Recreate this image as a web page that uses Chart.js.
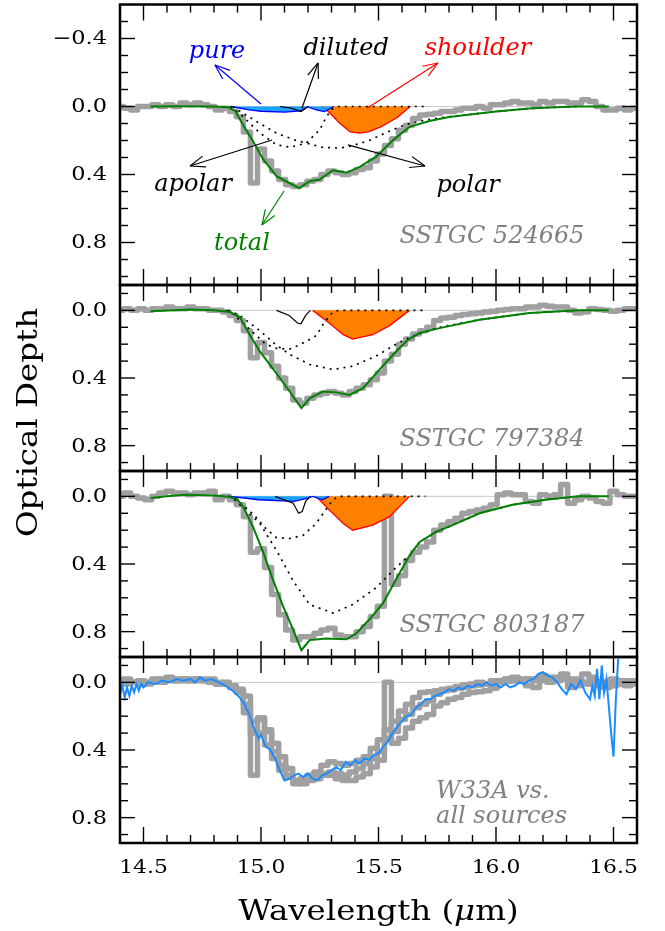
<!DOCTYPE html>
<html>
<head>
<meta charset="utf-8">
<script src="https://cdn.jsdelivr.net/npm/chart.js@4.4.1/dist/chart.umd.min.js"></script>
<style>
  html, body { margin: 0; padding: 0; background: #fff; }
  #wrap { position: relative; width: 665px; height: 931px; }
  #wrap canvas { position: absolute; left: 0; top: 0; }
</style>
</head>
<body>
<div id="wrap">
  <canvas id="p1" width="665" height="931"></canvas>
  <canvas id="p2" width="665" height="931"></canvas>
  <canvas id="p3" width="665" height="931"></canvas>
  <canvas id="p4" width="665" height="931"></canvas>
</div>
<script>
// axis ranges (wavelength in micron, optical depth reversed)
const xMin = 14.4, xMax = 16.6;
const panelRanges = [[-0.6, 1.05], [-0.15, 0.95], [-0.15, 0.95], [-0.15, 0.95]];
const xTickLabels = [14.5, 15.0, 15.5, 16.0, 16.5];
const yTickLabelsTop = [-0.4, 0.0, 0.4, 0.8];
const yTickLabels = [0.0, 0.4, 0.8];

// binned spectra (shared wavelength grid)
const grayWl = [
  14.40,14.43,14.46,14.49,14.52,14.55,14.58,14.61,14.64,14.67,
  14.70,14.73,14.76,14.79,14.82,14.85,14.88,14.91,14.94,14.97,
  15.00,15.03,15.06,15.09,15.12,15.15,15.18,15.21,15.24,15.27,
  15.30,15.33,15.36,15.39,15.42,15.45,15.48,15.51,15.54,15.57,
  15.60,15.63,15.66,15.69,15.72,15.75,15.78,15.81,15.84,15.87,
  15.90,15.93,15.96,15.99,16.02,16.05,16.08,16.11,16.14,16.17,
  16.20,16.23,16.26,16.29,16.32,16.35,16.38,16.41,16.44,16.47,
  16.50,16.53,16.56,16.59];

const p1Gray = [
  0.0,0.01,0.02,0.0,0.0,-0.01,0.0,-0.01,0.0,-0.02,
  -0.01,-0.02,-0.01,0.0,0.02,0.01,0.03,0.06,0.15,0.45,
  0.25,0.32,0.38,0.43,0.46,0.47,0.46,0.44,0.43,0.40,
  0.38,0.39,0.40,0.39,0.37,0.36,0.32,0.28,0.23,0.19,
  0.14,0.11,0.07,0.05,0.045,0.04,0.03,0.03,0.02,0.01,
  0.01,0.0,0.01,-0.01,-0.01,-0.02,-0.03,-0.02,-0.02,-0.01,
  -0.03,-0.02,-0.03,-0.03,-0.02,-0.02,-0.04,-0.03,0.0,0.02,
  0.02,0.01,0.02,0.01];
const p2Gray = [
  0.0,-0.01,0.0,-0.01,0.0,-0.01,-0.01,-0.02,-0.01,-0.01,
  -0.02,-0.01,-0.01,0.0,0.0,0.01,0.03,0.06,0.12,0.28,
  0.19,0.25,0.33,0.40,0.46,0.53,0.55,0.52,0.50,0.49,
  0.48,0.49,0.50,0.48,0.46,0.44,0.41,0.37,0.30,0.26,
  0.20,0.17,0.14,0.12,0.10,0.06,0.045,0.04,0.03,0.025,
  0.02,0.015,0.01,0.005,0.0,-0.005,-0.01,-0.01,-0.02,-0.02,
  -0.03,-0.025,-0.02,-0.02,0.0,0.015,0.01,-0.01,-0.005,0.0,
  0.005,0.0,-0.01,-0.01];
const p3Gray = [
  0.0,-0.02,0.0,0.01,0.02,0.0,-0.02,-0.03,-0.02,-0.02,
  -0.01,-0.02,-0.02,-0.03,0.02,0.0,0.02,0.05,0.12,0.33,
  0.31,0.42,0.58,0.70,0.79,0.85,0.83,0.83,0.81,0.79,
  0.78,0.82,0.83,0.83,0.80,0.77,0.71,0.65,0.0,0.52,
  0.47,0.38,0.33,0.30,0.27,0.20,0.17,0.15,0.13,0.10,
  0.09,0.08,0.07,0.05,-0.01,-0.02,-0.01,-0.01,0.03,0.04,
  -0.01,0.0,-0.01,-0.07,0.04,0.02,0.0,0.01,0.03,0.04,
  -0.03,-0.01,0.0,0.0];
const p4GrayA = [
  0.0,0.01,0.0,-0.01,0.0,-0.01,0.0,-0.02,-0.01,-0.02,
  -0.01,-0.02,-0.01,0.0,0.01,0.01,0.02,0.05,0.18,0.55,
  0.30,0.37,0.45,0.52,0.56,0.58,0.57,0.55,0.53,0.49,
  0.47,0.48,0.49,0.48,0.46,0.44,0.39,0.34,0.28,0.23,
  0.17,0.13,0.09,0.06,0.055,0.05,0.04,0.035,0.025,0.015,
  0.01,0.0,0.01,-0.01,-0.01,-0.02,-0.03,-0.02,-0.02,-0.01,
  -0.04,-0.02,-0.03,-0.03,-0.02,-0.02,-0.05,-0.03,0.0,0.02,
  0.02,0.01,0.02,0.01];
const p4GrayB = [
  0.01,-0.01,0.0,-0.01,0.0,-0.02,-0.01,-0.02,-0.01,-0.01,
  -0.02,-0.01,-0.01,0.0,0.0,0.01,0.03,0.06,0.13,0.30,
  0.21,0.28,0.36,0.44,0.51,0.58,0.60,0.57,0.55,0.54,
  0.53,0.54,0.55,0.53,0.51,0.48,0.45,0.41,0.33,0.29,
  0.22,0.19,0.15,0.13,0.11,0.07,0.05,0.045,0.035,0.03,
  0.02,0.015,0.01,0.005,0.0,-0.005,-0.01,-0.01,-0.02,-0.02,
  -0.03,-0.03,-0.02,-0.02,0.0,0.02,0.01,-0.01,-0.005,0.0,
  0.005,0.0,-0.01,-0.01];
const p4GrayC = [
  0.0,-0.02,0.0,0.01,0.01,0.0,-0.02,-0.03,-0.02,-0.02,
  -0.01,-0.02,-0.02,-0.02,0.01,0.0,0.02,0.04,0.08,0.23,
  0.22,0.29,0.41,0.49,0.55,0.60,0.58,0.58,0.57,0.55,
  0.55,0.57,0.58,0.58,0.56,0.54,0.50,0.46,0.0,0.36,
  0.33,0.27,0.23,0.21,0.19,0.14,0.12,0.10,0.09,0.07,
  0.06,0.055,0.05,0.035,-0.01,-0.02,-0.01,-0.01,0.02,0.03,
  -0.01,0.0,-0.01,-0.05,0.03,0.01,0.0,0.01,0.02,0.03,
  -0.02,-0.01,0.0,0.0];

// model components [wavelength, tau]
const zeroLine = [[14.4, 0], [16.6, 0]];

const p1Total = [[14.53,0.0],[14.65,-0.002],[14.8,0.0],[14.86,0.005],[14.89,0.025],[14.92,0.1],[14.966,0.205],[15.009,0.31],[15.066,0.41],[15.12,0.45],[15.163,0.48],[15.206,0.44],[15.25,0.43],[15.306,0.375],[15.363,0.39],[15.42,0.355],[15.49,0.295],[15.56,0.2],[15.632,0.12],[15.717,0.085],[15.8,0.062],[15.9,0.045],[16.0,0.03],[16.14,0.012],[16.25,0.005],[16.35,0.0],[16.48,0.0]];
const p1Pure = [[14.87,0],[14.95,0.02],[15.0,0.028],[15.1,0.033],[15.17,0.025],[15.2,0.003],[15.235,0.02],[15.27,0.03],[15.31,0.0]];
const p1Diluted = [[15.08,0],[15.13,0.01],[15.17,0.03],[15.2,0.0]];
const p1Shoulder = [[15.26,0],[15.294,0.04],[15.336,0.1],[15.38,0.15],[15.42,0.157],[15.46,0.148],[15.51,0.12],[15.58,0.065],[15.635,0]];
const p1Apolar = [[14.87,0],[14.924,0.06],[14.995,0.156],[15.066,0.225],[15.124,0.24],[15.193,0.215],[15.25,0.137],[15.278,0.06],[15.306,0.01],[15.33,0],[15.7,0]];
const p1Polar = [[14.88,0],[14.924,0.04],[14.995,0.1],[15.066,0.157],[15.15,0.2],[15.207,0.22],[15.26,0.24],[15.335,0.245],[15.39,0.23],[15.46,0.2],[15.53,0.155],[15.59,0.12],[15.632,0.1],[15.7,0.08],[15.8,0.06],[15.9,0.045],[16.0,0.03],[16.14,0.012],[16.25,0.005],[16.35,0]];

const p2Total = [[14.53,0.005],[14.7,-0.005],[14.8,0.0],[14.867,0.01],[14.91,0.04],[14.952,0.144],[14.995,0.243],[15.037,0.32],[15.08,0.4],[15.122,0.48],[15.172,0.578],[15.207,0.52],[15.263,0.48],[15.32,0.485],[15.377,0.5],[15.434,0.46],[15.504,0.35],[15.575,0.243],[15.625,0.174],[15.675,0.134],[15.76,0.105],[15.93,0.055],[16.142,0.016],[16.354,0.0],[16.48,0.0]];
const p2Diluted = [[15.066,0],[15.12,0.03],[15.155,0.075],[15.17,0.08],[15.19,0.03],[15.21,0]];
const p2Shoulder = [[15.22,0],[15.29,0.075],[15.35,0.144],[15.39,0.17],[15.476,0.144],[15.547,0.09],[15.632,0]];
const p2Apolar = [[14.85,0],[14.88,0.02],[14.966,0.13],[15.02,0.2],[15.066,0.225],[15.12,0.23],[15.17,0.2],[15.235,0.15],[15.27,0.07],[15.306,0.01],[15.33,0],[15.7,0]];
const p2Polar = [[14.86,0],[14.91,0.03],[14.995,0.12],[15.06,0.2],[15.122,0.26],[15.207,0.32],[15.306,0.35],[15.39,0.33],[15.49,0.27],[15.575,0.2],[15.632,0.16],[15.7,0.125],[15.76,0.1],[15.93,0.055],[16.14,0.016],[16.35,0]];

const p3Total = [[14.53,0.01],[14.6,0.0],[14.68,-0.01],[14.8,-0.005],[14.84,0.0],[14.867,0.003],[14.9,0.02],[14.924,0.06],[14.966,0.18],[15.009,0.33],[15.05,0.49],[15.094,0.65],[15.137,0.79],[15.172,0.91],[15.207,0.85],[15.278,0.84],[15.363,0.845],[15.406,0.81],[15.46,0.73],[15.52,0.63],[15.575,0.49],[15.632,0.35],[15.675,0.27],[15.745,0.21],[15.815,0.17],[15.93,0.1],[16.07,0.05],[16.21,0.02],[16.35,0.0],[16.48,0.0]];
const p3Pure = [[14.867,0],[14.99,0.02],[15.14,0.03],[15.2,0.01],[15.22,0.0],[15.26,0.02],[15.29,0.0]];
const p3Diluted = [[15.06,0],[15.137,0.04],[15.16,0.1],[15.175,0.09],[15.19,0.03],[15.21,0]];
const p3Shoulder = [[15.235,0],[15.29,0.08],[15.35,0.16],[15.39,0.2],[15.476,0.17],[15.547,0.12],[15.632,0]];
const p3Apolar = [[14.86,0],[14.89,0.01],[14.97,0.11],[15.02,0.19],[15.066,0.244],[15.12,0.25],[15.18,0.23],[15.235,0.16],[15.27,0.09],[15.306,0.02],[15.33,0],[15.7,0]];
const p3Polar = [[14.86,0],[14.88,0.01],[14.995,0.16],[15.066,0.32],[15.137,0.5],[15.207,0.64],[15.306,0.69],[15.39,0.64],[15.49,0.54],[15.575,0.42],[15.632,0.35],[15.675,0.27],[15.745,0.21],[15.815,0.17],[15.93,0.1],[16.07,0.05],[16.21,0.02],[16.35,0]];

const w33a = [[14.40,0.07],[14.41,0.02],[14.42,0.09],[14.43,0.03],[14.44,0.08],[14.45,0.02],[14.46,0.06],[14.47,0.01],[14.48,0.05],[14.49,0.01],[14.50,0.03],[14.52,0.0],[14.55,0.01],[14.58,-0.01],[14.61,0.0],[14.64,-0.02],[14.67,-0.01],[14.70,-0.02],[14.72,0.0],[14.74,-0.03],[14.76,-0.01],[14.79,-0.02],[14.82,0.0],[14.85,0.02],[14.88,0.05],[14.91,0.09],[14.93,0.13],[14.95,0.19],[14.97,0.27],[14.99,0.33],[15.00,0.31],[15.02,0.38],[15.04,0.40],[15.06,0.45],[15.08,0.52],[15.10,0.58],[15.12,0.57],[15.14,0.55],[15.16,0.54],[15.18,0.56],[15.20,0.54],[15.22,0.57],[15.24,0.58],[15.26,0.55],[15.28,0.54],[15.30,0.52],[15.32,0.50],[15.34,0.52],[15.36,0.47],[15.38,0.49],[15.40,0.46],[15.42,0.48],[15.44,0.45],[15.46,0.46],[15.48,0.43],[15.50,0.42],[15.52,0.38],[15.54,0.35],[15.56,0.30],[15.58,0.26],[15.60,0.23],[15.62,0.20],[15.64,0.19],[15.66,0.15],[15.68,0.13],[15.70,0.10],[15.72,0.10],[15.74,0.08],[15.76,0.07],[15.78,0.06],[15.80,0.04],[15.82,0.05],[15.84,0.03],[15.86,0.04],[15.88,0.02],[15.90,0.03],[15.92,0.01],[15.94,0.02],[15.96,0.0],[15.98,0.02],[16.00,0.01],[16.02,0.03],[16.04,0.01],[16.06,0.03],[16.08,0.02],[16.10,0.0],[16.12,0.01],[16.14,-0.01],[16.16,-0.02],[16.18,-0.05],[16.20,-0.06],[16.22,-0.04],[16.24,-0.03],[16.26,0.0],[16.28,0.04],[16.30,0.07],[16.32,0.01],[16.34,0.04],[16.36,-0.01],[16.38,0.06],[16.40,0.10],[16.41,0.02],[16.42,0.08],[16.43,-0.08],[16.44,0.10],[16.45,-0.10],[16.46,0.06],[16.47,-0.02],[16.49,0.30],[16.50,0.44],[16.51,0.10],[16.52,-0.14]];

// annotations (data coordinates)
const p1Notes = [
  { text: 'pure', at: [14.813, -0.285], color: '#0000ff' },
  { text: 'diluted', at: [15.362, -0.303], color: '#000000' },
  { text: 'shoulder', at: [15.923, -0.303], color: '#ff0000' },
  { text: 'apolar', at: [14.711, 0.497], color: '#000000' },
  { text: 'polar', at: [15.881, 0.503], color: '#000000' },
  { text: 'total', at: [14.919, 0.844], color: '#008000' },
  { text: 'SSTGC 524665', at: [15.983, 0.803], color: '#808080' }
];
const p1Arrows = [
  { from: [15.0, -0.015], to: [14.804, -0.244], color: '#0000ff' },
  { from: [15.174, 0.01], to: [15.243, -0.256], color: '#000000' },
  { from: [15.451, 0.01], to: [15.753, -0.256], color: '#ff0000' },
  { from: [15.047, 0.197], to: [14.698, 0.35], color: '#000000' },
  { from: [15.37, 0.226], to: [15.698, 0.35], color: '#000000' },
  { from: [15.098, 0.497], to: [15.004, 0.697], color: '#008000' }
];
const p2Notes = [{ text: 'SSTGC 797384', at: [15.983, 0.802], color: '#808080' }];
const p3Notes = [{ text: 'SSTGC 803187', at: [15.983, 0.802], color: '#808080' }];
const p4Notes = [
  { text: 'W33A vs.', at: [15.745, 0.684], color: '#808080', align: 'left' },
  { text: 'all sources', at: [15.745, 0.832], color: '#808080', align: 'left' }
];

// page layout (pixels)
const plotLeft = 120, plotRight = 637;
const panelTop = [4.5, 285, 471, 657];
const panelBottom = [285, 471, 657, 843];

const GRAY = '#a0a0a0';

function zip(wl, tau) {
  const n = Math.min(wl.length, tau.length);
  const out = [];
  for (let i = 0; i < n; i++) out.push({ x: wl[i], y: tau[i] });
  return out;
}
function pts(pairs) { return pairs.map(p => ({ x: p[0], y: p[1] })); }

function zeroDs() {
  return { data: pts(zeroLine), borderColor: '#c8c8c8', borderWidth: 1, order: 90 };
}
function grayDs(tau) {
  return { data: zip(grayWl, tau), borderColor: GRAY, borderWidth: 5.5, stepped: 'middle',
    borderJoinStyle: 'round', borderCapStyle: 'round', order: 80 };
}
function fillDs(pairs, line, fill) {
  return { data: pts(pairs), borderColor: line, borderWidth: 1.3, backgroundColor: fill,
    fill: { value: 0 }, order: 40 };
}
function thinDs(pairs) {
  return { data: pts(pairs), borderColor: '#000', borderWidth: 1.2, order: 30 };
}
function dotDs(pairs) {
  return { data: pts(pairs), borderColor: '#000', borderWidth: 1.7, borderDash: [2, 5], order: 35 };
}
function totalDs(pairs) {
  return { data: pts(pairs), borderColor: '#008000', borderWidth: 2, order: 10 };
}

function text(ctx, s, x, y, font, color, align, baseline, sx) {
  ctx.save();
  ctx.translate(x, y);
  ctx.scale(sx || 1, 1);
  ctx.font = font;
  ctx.fillStyle = color;
  ctx.textAlign = align || 'left';
  ctx.textBaseline = baseline || 'alphabetic';
  ctx.fillText(s, 0, 0);
  ctx.restore();
}
function fmt(v) {
  const s = Math.abs(v).toFixed(1);
  return v < 0 ? '\u2212' + s : s;
}
function line(ctx, x1, y1, x2, y2) {
  ctx.beginPath(); ctx.moveTo(x1, y1); ctx.lineTo(x2, y2); ctx.stroke();
}

const TICK_FONT = '19px "DejaVu Serif"';
const NOTE_FONT = 'italic 24px "DejaVu Serif"';
const TITLE_FONT = '28px "DejaVu Serif"';

function decoPlugin(deco) {
  return {
    id: 'deco',
    afterDatasetsDraw(chart) {
      const { ctx, chartArea: a, scales: { x, y } } = chart;
      ctx.save();
      ctx.strokeStyle = '#000';
      ctx.lineWidth = 1.4;
      // x ticks top and bottom, inward
      for (let i = 145; i < 166; i++) {
        const px = x.getPixelForValue(i / 10);
        const len = i % 5 === 0 ? 16 : 8;
        line(ctx, px, a.top, px, a.top + len);
        line(ctx, px, a.bottom, px, a.bottom - len);
      }
      // y ticks left and right, inward
      const lo = Math.ceil(y.min * 10), hi = Math.floor(y.max * 10);
      for (let i = lo; i <= hi; i++) {
        const py = y.getPixelForValue(i / 10);
        if (Math.abs(py - a.top) < 2 || Math.abs(py - a.bottom) < 2) continue;
        const len = i % 4 === 0 ? 15 : 8;
        line(ctx, a.left, py, a.left + len, py);
        line(ctx, a.right, py, a.right - len, py);
      }
      // frame
      ctx.lineWidth = 2.5;
      ctx.strokeRect(a.left, a.top, a.right - a.left, a.bottom - a.top);

      // tick labels
      deco.yLabels.forEach(v => {
        text(ctx, fmt(v), a.left - 13, y.getPixelForValue(v) + 1, TICK_FONT, '#000', 'right', 'middle', 1.18);
      });
      if (deco.xLabels) {
        deco.xLabels.forEach(v => {
          text(ctx, v.toFixed(1), x.getPixelForValue(v), a.bottom + 25, TICK_FONT, '#000', 'center', 'middle', 1.15);
        });
      }

      // notes
      (deco.notes || []).forEach(n => {
        text(ctx, n.text, x.getPixelForValue(n.at[0]), y.getPixelForValue(n.at[1]),
          NOTE_FONT, n.color, n.align || 'center', 'alphabetic', 1);
      });

      // arrows with open heads
      (deco.arrows || []).forEach(ar => {
        const x1 = x.getPixelForValue(ar.from[0]), y1 = y.getPixelForValue(ar.from[1]);
        const x2 = x.getPixelForValue(ar.to[0]), y2 = y.getPixelForValue(ar.to[1]);
        ctx.strokeStyle = ar.color;
        ctx.lineWidth = 1.2;
        line(ctx, x1, y1, x2, y2);
        const ang = Math.atan2(y2 - y1, x2 - x1);
        const hl = 16, hw = 0.36;
        line(ctx, x2, y2, x2 - hl * Math.cos(ang - hw), y2 - hl * Math.sin(ang - hw));
        line(ctx, x2, y2, x2 - hl * Math.cos(ang + hw), y2 - hl * Math.sin(ang + hw));
      });

      // axis titles
      if (deco.titles) {
        const sx = 1.16;
        ctx.save();
        ctx.translate(37, 422.5);
        ctx.rotate(-Math.PI / 2);
        ctx.scale(sx, 1);
        ctx.font = TITLE_FONT;
        ctx.fillStyle = '#000';
        ctx.textAlign = 'center';
        ctx.textBaseline = 'alphabetic';
        ctx.fillText('Optical Depth', 0, 0);
        ctx.restore();

        ctx.save();
        ctx.font = TITLE_FONT;
        const w1 = ctx.measureText('Wavelength (').width;
        ctx.font = 'italic ' + TITLE_FONT;
        const w2 = ctx.measureText('\u03bc').width;
        ctx.font = TITLE_FONT;
        const w3 = ctx.measureText('m)').width;
        const total = (w1 + w2 + w3) * sx;
        ctx.translate(378.5 - total / 2, 920);
        ctx.scale(sx, 1);
        ctx.fillStyle = '#000';
        ctx.textBaseline = 'alphabetic';
        ctx.textAlign = 'left';
        ctx.fillText('Wavelength (', 0, 0);
        ctx.font = 'italic ' + TITLE_FONT;
        ctx.fillText('\u03bc', w1, 0);
        ctx.font = TITLE_FONT;
        ctx.fillText('m)', w1 + w2, 0);
        ctx.restore();
      }
      ctx.restore();
    }
  };
}

function makeChart(id, panel, datasets, deco) {
  const r = panelRanges[panel];
  return new Chart(document.getElementById(id), {
    type: 'line',
    data: { datasets },
    options: {
      responsive: false,
      animation: false,
      devicePixelRatio: 1,
      events: [],
      layout: { padding: { left: plotLeft, right: 665 - plotRight, top: panelTop[panel], bottom: 931 - panelBottom[panel] } },
      scales: {
        x: { type: 'linear', min: xMin, max: xMax, display: false },
        y: { type: 'linear', min: r[0], max: r[1], reverse: true, display: false }
      },
      elements: { point: { radius: 0 }, line: { tension: 0, fill: false } },
      plugins: { legend: { display: false }, tooltip: { enabled: false } }
    },
    plugins: [decoPlugin(deco)]
  });
}

makeChart('p1', 0, [
  zeroDs(), grayDs(p1Gray),
  fillDs(p1Pure, '#0000ff', '#1aa3ff'),
  fillDs(p1Shoulder, '#ff0000', '#ff8000'),
  thinDs(p1Diluted), dotDs(p1Apolar), dotDs(p1Polar),
  totalDs(p1Total)
], { yLabels: yTickLabelsTop, notes: p1Notes, arrows: p1Arrows });

makeChart('p2', 1, [
  zeroDs(), grayDs(p2Gray),
  fillDs(p2Shoulder, '#ff0000', '#ff8000'),
  thinDs(p2Diluted), dotDs(p2Apolar), dotDs(p2Polar),
  totalDs(p2Total)
], { yLabels: yTickLabels, notes: p2Notes });

makeChart('p3', 2, [
  zeroDs(), grayDs(p3Gray),
  fillDs(p3Pure, '#0000ff', '#1aa3ff'),
  fillDs(p3Shoulder, '#ff0000', '#ff8000'),
  thinDs(p3Diluted), dotDs(p3Apolar), dotDs(p3Polar),
  totalDs(p3Total)
], { yLabels: yTickLabels, notes: p3Notes });

makeChart('p4', 3, [
  zeroDs(), grayDs(p4GrayA), grayDs(p4GrayB), grayDs(p4GrayC),
  { data: pts(w33a), borderColor: '#1a8cff', borderWidth: 2, order: 5 }
], { yLabels: yTickLabels, xLabels: xTickLabels, notes: p4Notes, titles: true });
</script>
</body>
</html>
